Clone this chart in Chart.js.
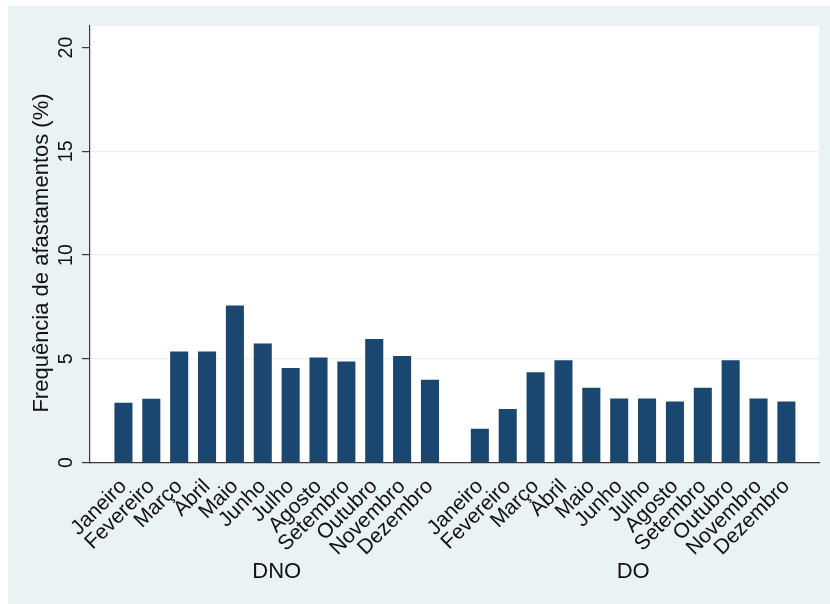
<!DOCTYPE html>
<html>
<head>
<meta charset="utf-8">
<script src="https://cdn.jsdelivr.net/npm/chart.js@4"></script>
<style>
  html, body { margin: 0; padding: 0; background: #fff; }
  canvas { display: block; }
</style>
</head>
<body>
<canvas id="afastamentos" width="830" height="604"></canvas>
<script>
const months = ['Janeiro', 'Fevereiro', 'Março', 'Abril', 'Maio', 'Junho',
  'Julho', 'Agosto', 'Setembro', 'Outubro', 'Novembro', 'Dezembro'];
const groups = ['DNO', 'DO'];
const dnoValues = [2.86, 3.06, 5.33, 5.33, 7.55, 5.72, 4.54, 5.04, 4.85, 5.94, 5.12, 3.97];
const doValues = [1.61, 2.56, 4.33, 4.91, 3.59, 3.07, 3.07, 2.93, 3.59, 4.91, 3.07, 2.93];
const yTicks = [0, 5, 10, 15, 20];

// bars sit one unit apart, the second group starts after a wider gap
const groupGap = 1.79;
const groupStart = [0, months.length - 1 + groupGap];
const positions = groupStart.flatMap((s) => months.map((m, i) => s + i));

const FONT = '"Liberation Sans", Arial, Helvetica, sans-serif';
const NAVY = '#1a476f';
const AXIS = '#3a3a3a';

const backdrop = {
  id: 'backdrop',
  beforeDraw(chart) {
    const { ctx, chartArea: a } = chart;
    ctx.save();
    ctx.fillStyle = '#ffffff';
    ctx.fillRect(0, 0, chart.width, chart.height);
    ctx.fillStyle = '#eaf2f3';
    ctx.fillRect(8, 6, chart.width - 8, chart.height - 6);
    ctx.fillStyle = '#ffffff';
    ctx.fillRect(a.left, a.top, a.right - a.left, a.bottom - a.top);
    ctx.restore();
  },
  afterDraw(chart) {
    const { ctx } = chart;
    const x = chart.scales.x;
    const y = chart.scales.y;
    ctx.save();
    ctx.fillStyle = '#111';
    ctx.textAlign = 'center';
    ctx.textBaseline = 'middle';

    // vertical tick labels on the y axis
    ctx.font = `19.5px ${FONT}`;
    yTicks.forEach((v) => {
      ctx.save();
      ctx.translate(67, y.getPixelForValue(v));
      ctx.rotate(-Math.PI / 2);
      ctx.fillText(String(v), 0, 0);
      ctx.restore();
    });

    ctx.save();
    ctx.font = `22px ${FONT}`;
    ctx.translate(42, 253);
    ctx.rotate(-Math.PI / 2);
    ctx.fillText('Frequência de afastamentos (%)', 0, 0);
    ctx.restore();

    // group names under each block of months
    ctx.font = `22px ${FONT}`;
    groups.forEach((g, gi) => {
      const mid = groupStart[gi] + (months.length - 1) / 2;
      ctx.fillText(g, x.getPixelForValue(mid), 572);
    });
    ctx.restore();
  }
};

new Chart(document.getElementById('afastamentos'), {
  type: 'bar',
  data: {
    datasets: [
      {
        label: groups[0],
        data: dnoValues.map((v, i) => ({ x: groupStart[0] + i, y: v })),
        backgroundColor: NAVY,
      },
      {
        label: groups[1],
        data: doValues.map((v, i) => ({ x: groupStart[1] + i, y: v })),
        backgroundColor: NAVY,
      },
    ],
  },
  options: {
    responsive: false,
    animation: false,
    devicePixelRatio: 1,
    // each dataset owns its own x positions, so no side-by-side grouping
    datasets: { bar: { grouped: false, barThickness: 17.4 } },
    layout: { padding: { left: 0, right: 11, top: 26, bottom: 0 } },
    plugins: { legend: { display: false }, tooltip: { enabled: false } },
    scales: {
      x: {
        type: 'linear',
        offset: false,
        min: -1.2,
        max: groupStart[1] + months.length - 1 + 1.17,
        grid: { display: false },
        border: { display: true, color: AXIS, width: 1.2 },
        afterBuildTicks(scale) {
          scale.ticks = positions.map((p) => ({ value: p }));
        },
        afterFit(scale) {
          scale.height = 141.5;
        },
        ticks: {
          autoSkip: false,
          minRotation: 45,
          maxRotation: 45,
          padding: 12,
          color: '#111',
          font: { family: FONT, size: 21, lineHeight: 0.1 },
          callback: (value, index) => months[index % months.length],
        },
      },
      y: {
        min: 0,
        // a little headroom above the top tick, as in the plot region margin
        max: 21.04,
        afterBuildTicks(scale) {
          scale.ticks = yTicks.map((v) => ({ value: v }));
        },
        afterFit(scale) {
          scale.width = 90;
        },
        ticks: { display: false },
        border: { display: true, color: AXIS, width: 1.2 },
        grid: {
          drawTicks: true,
          tickLength: 8,
          tickColor: AXIS,
          color: (c) => (c.tick && c.tick.value > 0 && c.tick.value < 20 ? '#e9f0f1' : 'rgba(0,0,0,0)'),
          lineWidth: 1.2,
        },
      },
    },
  },
  plugins: [backdrop],
});
</script>
</body>
</html>
